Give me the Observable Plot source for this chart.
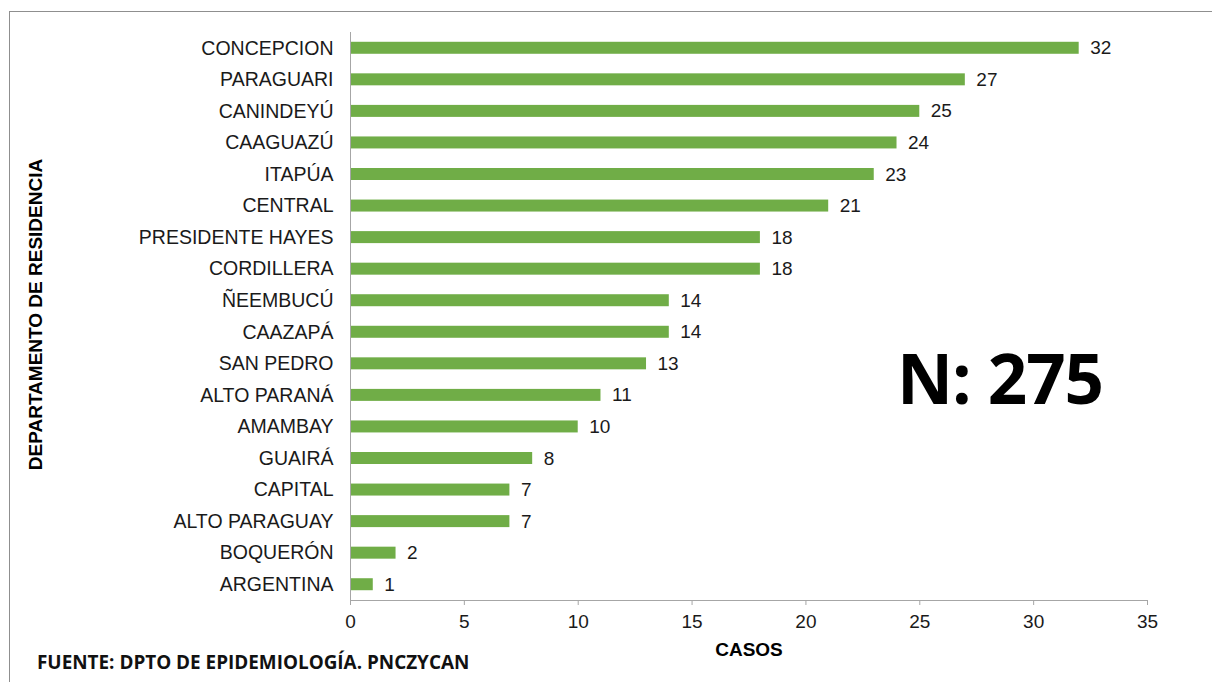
<!DOCTYPE html>
<html>
<head>
<meta charset="utf-8">
<script src="https://cdn.jsdelivr.net/npm/d3@7"></script>
<script src="https://cdn.jsdelivr.net/npm/@observablehq/plot@0.6"></script>
<style>
  html, body { margin: 0; padding: 0; background: #fff; overflow: hidden; }
  #wrap { position: relative; width: 1212px; height: 682px; overflow: hidden; }
  #border { position: absolute; left: 9px; top: 11px; width: 1400px; height: 900px; border: 1px solid #8f8f8f; box-sizing: border-box; }
  #chart { position: absolute; left: 0; top: 0; }
  #n { position: absolute; left: 897px; top: 332px; font-family: "Open Sans", sans-serif; font-weight: 700; font-size: 69px; line-height: 90px; color: #000; letter-spacing: -1px; }
  #src { position: absolute; left: 37px; top: 650px; font-family: "Open Sans", sans-serif; font-weight: 700; font-size: 18.9px; line-height: 24px; color: #111; }
</style>
</head>
<body>
<div id="wrap">
  <div id="border"></div>
  <div id="chart"></div>
  <div id="n">N: 275</div>
  <div id="src">FUENTE: DPTO DE EPIDEMIOLOGÍA. PNCZYCAN</div>
</div>
<script>
const departamentos = ["CONCEPCION","PARAGUARI","CANINDEYÚ","CAAGUAZÚ","ITAPÚA","CENTRAL","PRESIDENTE HAYES","CORDILLERA","ÑEEMBUCÚ","CAAZAPÁ","SAN PEDRO","ALTO PARANÁ","AMAMBAY","GUAIRÁ","CAPITAL","ALTO PARAGUAY","BOQUERÓN","ARGENTINA"];
const casos = [32,27,25,24,23,21,18,18,14,14,13,11,10,8,7,7,2,1];
const xTicks = [0,5,10,15,20,25,30,35];
const xTitle = "CASOS";
const yTitle = "DEPARTAMENTO DE RESIDENCIA";

const data = departamentos.map((d, i) => ({dep: d, casos: casos[i]}));
const font = "'Liberation Sans', Arial, sans-serif";

const chart = Plot.plot({
  width: 1212,
  height: 682,
  marginLeft: 350,
  marginRight: 65,
  marginTop: 32,
  marginBottom: 82,
  style: {fontFamily: font, fontSize: "19px", color: "#1a1a1a", background: "transparent"},
  x: {domain: [0, 35], ticks: xTicks},
  y: {domain: departamentos, paddingInner: 0.62, paddingOuter: 0.31, round: false},
  marks: [
    Plot.barX(data, {x: "casos", y: "dep", fill: "#70AD47"}),
    Plot.text(data, {x: "casos", y: "dep", text: d => String(d.casos), textAnchor: "start", dx: 11, fontSize: 19, fill: "#1a1a1a"}),
    Plot.frame({anchor: "left", stroke: "#a6a6a6", strokeOpacity: 1}),
    Plot.frame({anchor: "bottom", stroke: "#a6a6a6", strokeOpacity: 1}),
    Plot.axisX({ticks: xTicks, tickSize: 5, tickPadding: 9, stroke: "#a6a6a6", strokeOpacity: 1, fontSize: 19, fill: "#1a1a1a", label: null}),
    Plot.axisY({tickSize: 0, tickPadding: 17, fontSize: 19.5, fill: "#1a1a1a", label: null}),
    Plot.text([xTitle], {frameAnchor: "bottom", dy: 55, text: d => d, fontWeight: "bold", fontSize: 19, fill: "#000"}),
    Plot.text([yTitle], {frameAnchor: "left", dx: -315, dy: -2, rotate: -90, textAnchor: "middle", text: d => d, fontWeight: "bold", fontSize: 19, fill: "#000"})
  ]
});
document.getElementById("chart").appendChild(chart);
</script>
</body>
</html>
